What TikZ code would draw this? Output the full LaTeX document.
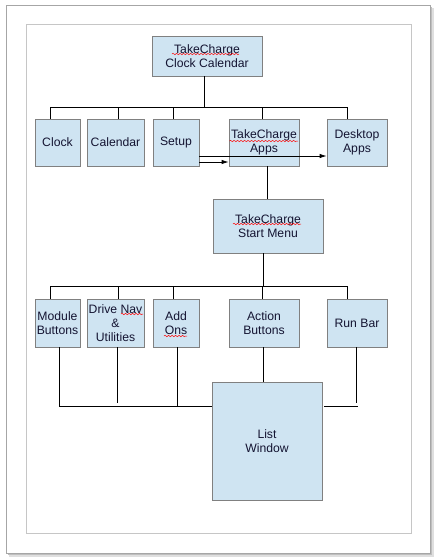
\documentclass[tikz,border=0pt]{standalone}
\usepackage{fontspec}
\setmainfont{Liberation Sans}
\usetikzlibrary{arrows.meta,calc,decorations.pathmorphing}
\definecolor{boxfill}{RGB}{207,228,242}
\definecolor{boxline}{RGB}{128,128,128}
\definecolor{txt}{RGB}{20,20,50}
\tikzset{
  box/.style={draw=boxline, fill=boxfill, line width=0.8pt, rectangle, inner sep=1pt,
    align=center, text=txt, font=\fontsize{12.2}{14}\selectfont},
  conn/.style={draw=black, line width=0.8pt},
  arr/.style={conn, -{Latex[length=7pt,width=4.5pt]}},
  squig/.style={draw=red, line width=0.5pt, decorate,
    decoration={snake, segment length=3.5pt, amplitude=0.7pt}}
}
\begin{document}
\begin{tikzpicture}[x=1pt,y=-1pt]
\useasboundingbox (0,0) rectangle (435,558);
% page with shadow
\fill[gray!25] (9,8) rectangle (434,557);
\fill[gray!50] (7.5,6.5) rectangle (432,555);
\draw[fill=white, draw=gray!70, line width=0.8pt] (6,5) rectangle (430,553);
\draw[draw=gray!45, line width=0.8pt] (26,24) rectangle (411,533);

% nodes
\node[box, minimum width=110, minimum height=40] (top) at (207,56) {TakeCharge\\Clock Calendar};
\node[box, minimum width=45, minimum height=47] (clock) at (57.5,142.5) {Clock};
\node[box, minimum width=57, minimum height=47] (cal) at (115.5,142.5) {Calendar};
\node[box, minimum width=46, minimum height=47] (setup) at (176,142.5) {Setup};
\node[box, minimum width=70, minimum height=47] (apps) at (264,142.5) {TakeCharge\\Apps};
\node[box, minimum width=60, minimum height=47] (desk) at (357,142.5) {Desktop\\Apps};
\node[box, minimum width=110, minimum height=54] (start) at (268,226) {TakeCharge\\Start Menu};
\node[box, minimum width=45, minimum height=48] (module) at (57.5,323) {Module\\Buttons};
\node[box, minimum width=57, minimum height=48] (drive) at (115.5,323) {Drive Nav\\\&\\Utilities};
\node[box, minimum width=46, minimum height=48] (addons) at (176,323) {Add\\Ons};
\node[box, minimum width=70, minimum height=48] (action) at (264,323) {Action\\Buttons};
\node[box, minimum width=60, minimum height=48] (runbar) at (357,323) {Run Bar};
\node[box, minimum width=110, minimum height=118] (list) at (267,441) {List\\Window};

% spell-check squiggles
\path[squig] ($(top.center)+(-35,-2)$) -- ($(top.center)+(32,-2)$);
\path[squig] ($(apps.center)+(-34.5,-1.5)$) -- ($(apps.center)+(34,-1.5)$);
\path[squig] ($(start.center)+(-35,-2)$) -- ($(start.center)+(33,-2)$);
\path[squig] ($(drive.center)+(5.5,-9)$) -- ($(drive.center)+(27.5,-9)$);
\path[squig] ($(addons.center)+(-12,13)$) -- ($(addons.center)+(11,13)$);

% bus 1
\coordinate (b1l) at (50,107);
\coordinate (b1r) at (347,107);
\path ($(top.south)+(-3,0)$) coordinate (t0);
\draw[conn] (t0) -- (t0 |- b1l);
\draw[conn] (b1l) -- (b1r);
\foreach \n/\dx in {clock/-7.5, cal/2.5, setup/-3, apps/-2, desk/-10}{
  \path ($(\n.north)+(\dx,0)$) coordinate (dn);
  \draw[conn] (dn) -- (dn |- b1l);
}
% arrows from setup
\path ($(setup.east)+(0,13.5)$) coordinate (s1);
\path ($(setup.east)+(0,19.5)$) coordinate (s2);
\draw[arr] (s1) -- (s1 -| desk.west);
\draw[arr] (s2) -- (s2 -| apps.west);

% apps to start menu
\path ($(apps.south)+(3,0)$) coordinate (a0);
\draw[conn] (a0) -- (a0 |- start.north);

% bus 2
\coordinate (b2l) at (50,286);
\coordinate (b2r) at (347,286);
\path ($(start.south)+(-5,0)$) coordinate (st0);
\draw[conn] (st0) -- (st0 |- b2l);
\draw[conn] (b2l) -- (b2r);
\foreach \n/\dx in {module/-7.5, drive/2.5, addons/-3, action/-2, runbar/-10}{
  \path ($(\n.north)+(\dx,0)$) coordinate (dn);
  \draw[conn] (dn) -- (dn |- b2l);
}

% bottom lines
\coordinate (b3) at (0,406);
\coordinate (b3s) at (0,403);
\path ($(module.south)+(2,0)$) coordinate (m0);
\path ($(drive.south)+(1.5,0)$) coordinate (d0);
\path ($(addons.south)+(1,0)$) coordinate (o0);
\path ($(action.south)+(-1,0)$) coordinate (c0);
\path ($(runbar.south)+(-1,0)$) coordinate (r0);
\path ($(runbar.south)+(1,0)$) coordinate (r1);
\path ($(list.east)+(2,0)$) coordinate (re);
\draw[conn] (m0) -- (m0 |- b3) -- (b3 -| list.west);
\draw[conn] (d0) -- (d0 |- b3s);
\draw[conn] (o0) -- (o0 |- b3);
\draw[conn] (c0) -- (c0 |- list.north);
\draw[conn] (r0) -- (r0 |- b3s);
\draw[conn] (re |- b3) -- (r1 |- b3);
\end{tikzpicture}
\end{document}
